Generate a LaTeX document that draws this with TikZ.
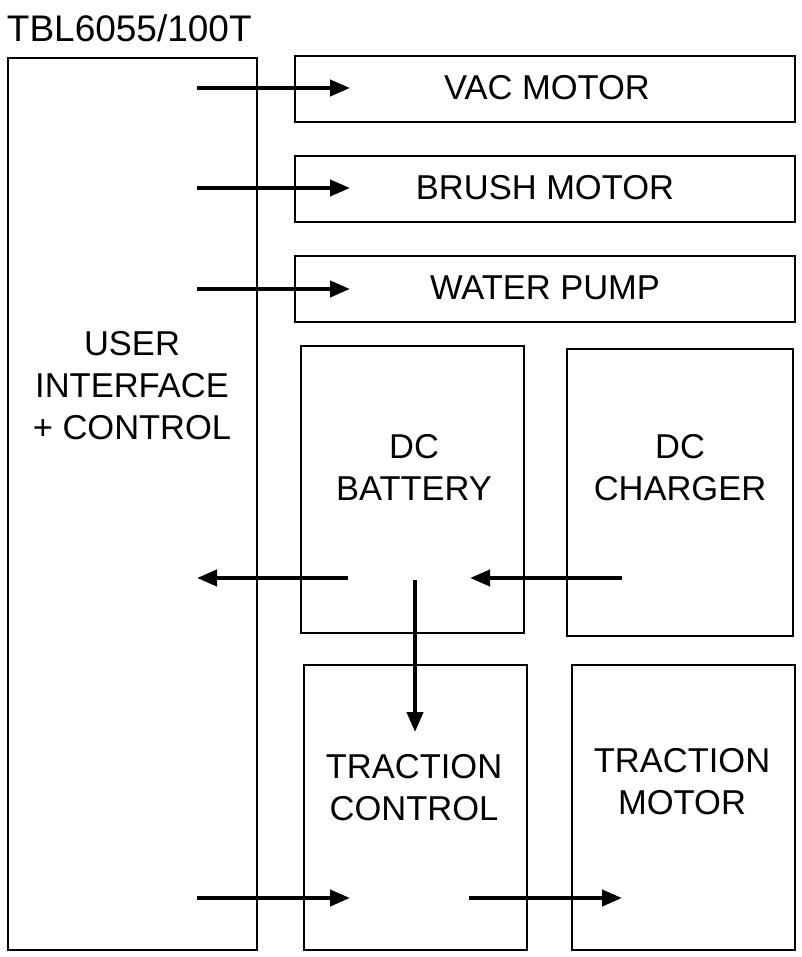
\documentclass[tikz,border=0pt]{standalone}
\usepackage{fontspec}
\setmainfont{Liberation Sans}
\usetikzlibrary{arrows.meta}
\tikzset{every picture/.style={line width=1.8pt},
  blk/.style={draw,line width=1.8pt},
  lbl/.style={font=\fontsize{34.5}{42}\selectfont,align=center,inner sep=0pt},
  flow/.style={line width=4pt,-{Triangle[length=20pt,width=16pt]}}}
\begin{document}
\begin{tikzpicture}[x=1pt,y=1pt,yscale=-1]
	\useasboundingbox (0,0) rectangle (801,957);
	
	%Boxes
	\draw[blk] (8,58) rectangle (257,950);
	\draw[blk] (295,56) rectangle (795,122);
	\draw[blk] (295,156) rectangle (795,222);
	\draw[blk] (295,256) rectangle (795,322);
	\draw[blk] (301,346) rectangle (524,633);
	\draw[blk] (567,349) rectangle (793,636);
	\draw[blk] (304,665) rectangle (527,950);
	\draw[blk] (572,665) rectangle (795,950);
	
	% Text Nodes
	\node[lbl,anchor=west,font=\fontsize{37}{42}\selectfont] (title) at (6,28) {TBL6055/100T};
	\node[lbl] (ui) at (132,386) {USER\\INTERFACE\\+ CONTROL};
	\node[lbl] (vac) at (547,88) {VAC MOTOR};
	\node[lbl] (brush) at (545,188) {BRUSH MOTOR};
	\node[lbl] (pump) at (545,288) {WATER PUMP};
	\node[lbl] (bat) at (414,467) {DC\\BATTERY};
	\node[lbl] (chg) at (680,468) {DC\\CHARGER};
	\node[lbl] (tc) at (414,788) {TRACTION\\CONTROL};
	\node[lbl] (tm) at (682,782) {TRACTION\\MOTOR};
	
	%Arrow ends
	\coordinate (u1) at (197,88);  \coordinate (v1) at (350,88);
	\coordinate (u2) at (197,188); \coordinate (v2) at (350,188);
	\coordinate (u3) at (197,289); \coordinate (v3) at (350,289);
	\coordinate (b1) at (348,578); \coordinate (u4) at (197,578);
	\coordinate (c1) at (622,578); \coordinate (b2) at (470,578);
	\coordinate (b3) at (415,580); \coordinate (t1) at (415,732);
	\coordinate (u5) at (197,898); \coordinate (t2) at (350,898);
	\coordinate (t3) at (469,898); \coordinate (m1) at (622,898);
	
	%Arrows
	\draw[flow] (u1) -- (v1);
	\draw[flow] (u2) -- (v2);
	\draw[flow] (u3) -- (v3);
	\draw[flow] (b1) -- (u4);
	\draw[flow] (c1) -- (b2);
	\draw[flow] (b3) -- (t1);
	\draw[flow] (u5) -- (t2);
	\draw[flow] (t3) -- (m1);
	
\end{tikzpicture}
\end{document}
